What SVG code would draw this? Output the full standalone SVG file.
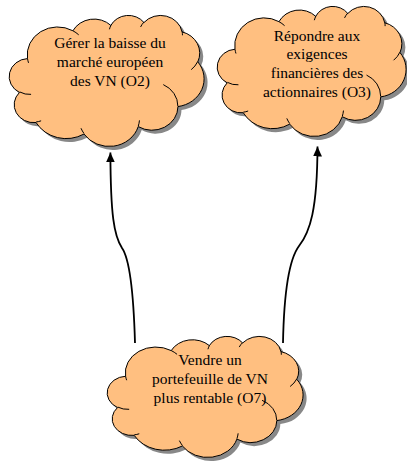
<svg xmlns="http://www.w3.org/2000/svg" xmlns:xlink="http://www.w3.org/1999/xlink" width="407" height="462" viewBox="0 0 407 462">
<style>
.body{fill:#FFBF80;stroke:#000000;stroke-width:1}
.shadow{fill:#888888;stroke:none}
.inner{fill:none;stroke:#000000;stroke-width:1}
.label{font-family:"Liberation Serif","Times New Roman",serif;font-size:15.5px;fill:#000000;text-anchor:middle}
.conn{fill:none;stroke:#000000;stroke-width:1.8}
</style>
<defs>
<path id="cloud" vector-effect="non-scaling-stroke" d="M39,143.7 A67.53,91.9 0 0 1 140.05,52 A53.33,72.67 0 0 1 224.56,34.3 A43.65,59.45 0 0 1 298.32,24.78 A48.57,65.95 0 0 1 383.17,55.72 A53.33,72.73 0 0 1 418.17,154.58 A67.75,92.2 0 0 1 374.02,302 A57.85,78.67 0 0 1 285.52,368.09 A67.52,92.15 0 0 1 164.77,392.61 A77.2,105.43 0 0 1 57.98,354.68 A43.6,59.18 0 0 1 21.08,255.44 A43.45,59.45 0 0 1 39,143.7 Z"/>
<path id="cloudInner" vector-effect="non-scaling-stroke" d="M46.93,261.77 A43.45,59.45 0 0 1 21.59,253.8 M69.28,348.99 A43.6,59.18 0 0 1 58.19,352.81 M164.78,390.9 A67.52,92.15 0 0 1 158.1,373.49 M288.27,347.51 A67.52,92.15 0 0 1 285.6,366.62 M341.29,229.54 A57.85,78.67 0 0 1 373.8,300.89 M417.98,153.54 A53.33,72.73 0 0 1 403.5,180.29 M383.24,54.26 A48.57,65.95 0 0 1 384.01,66.91 M290.78,39.52 A48.57,65.95 0 0 1 298.2,23.4 M221.41,47.2 A43.65,59.45 0 0 1 225,33.31 M140,51.92 A67.53,91.9 0 0 1 153.01,65.41 M41.27,157.89 A67.53,91.9 0 0 1 39,143.73"/>
<marker id="arrow" markerUnits="userSpaceOnUse" markerWidth="11" markerHeight="10" refX="10" refY="4.5" orient="auto" viewBox="0 0 11 10">
<path d="M0,0 L10,4.5 L0,9 Z" fill="#000000"/>
</marker>
</defs>
<g id="node-O2">
<use xlink:href="#cloud" class="shadow" transform="translate(13.5,18.5) scale(0.4491,0.3032)"/>
<use xlink:href="#cloud" class="body" transform="translate(10,15) scale(0.4491,0.3032)"/>
<use xlink:href="#cloudInner" class="inner" transform="translate(10,15) scale(0.4491,0.3032)"/>
<text class="label" x="110" y="48.3">Gérer la baisse du</text>
<text class="label" x="110" y="67.1">marché européen</text>
<text class="label" x="110" y="85.9">des VN (O2)</text>
</g>
<g id="node-O3">
<use xlink:href="#cloud" class="shadow" transform="translate(221.5,9.5) scale(0.4352,0.3009)"/>
<use xlink:href="#cloud" class="body" transform="translate(218,6) scale(0.4352,0.3009)"/>
<use xlink:href="#cloudInner" class="inner" transform="translate(218,6) scale(0.4352,0.3009)"/>
<text class="label" x="317" y="40.7">Répondre aux</text>
<text class="label" x="317" y="59.3">exigences</text>
<text class="label" x="317" y="77.9">financières des</text>
<text class="label" x="317" y="96.5">actionnaires (O3)</text>
</g>
<g id="node-O7">
<use xlink:href="#cloud" class="shadow" transform="translate(111.5,339.5) scale(0.4514,0.2801)"/>
<use xlink:href="#cloud" class="body" transform="translate(108,336) scale(0.4514,0.2801)"/>
<use xlink:href="#cloudInner" class="inner" transform="translate(108,336) scale(0.4514,0.2801)"/>
<text class="label" x="210" y="365">Vendre un</text>
<text class="label" x="210" y="384">portefeuille de VN</text>
<text class="label" x="210" y="403">plus rentable (O7)</text>
</g>
<g id="connectors">
<path class="conn" marker-end="url(#arrow)" d="M135,343 C133.5,290 129,258 122,248 C114,236 110.6,215 110.4,152.5"/>
<path class="conn" marker-end="url(#arrow)" d="M283,343 C284,290 290,258 299,246 C310,232 317.3,210 317.5,146.5"/>
</g>
</svg>
